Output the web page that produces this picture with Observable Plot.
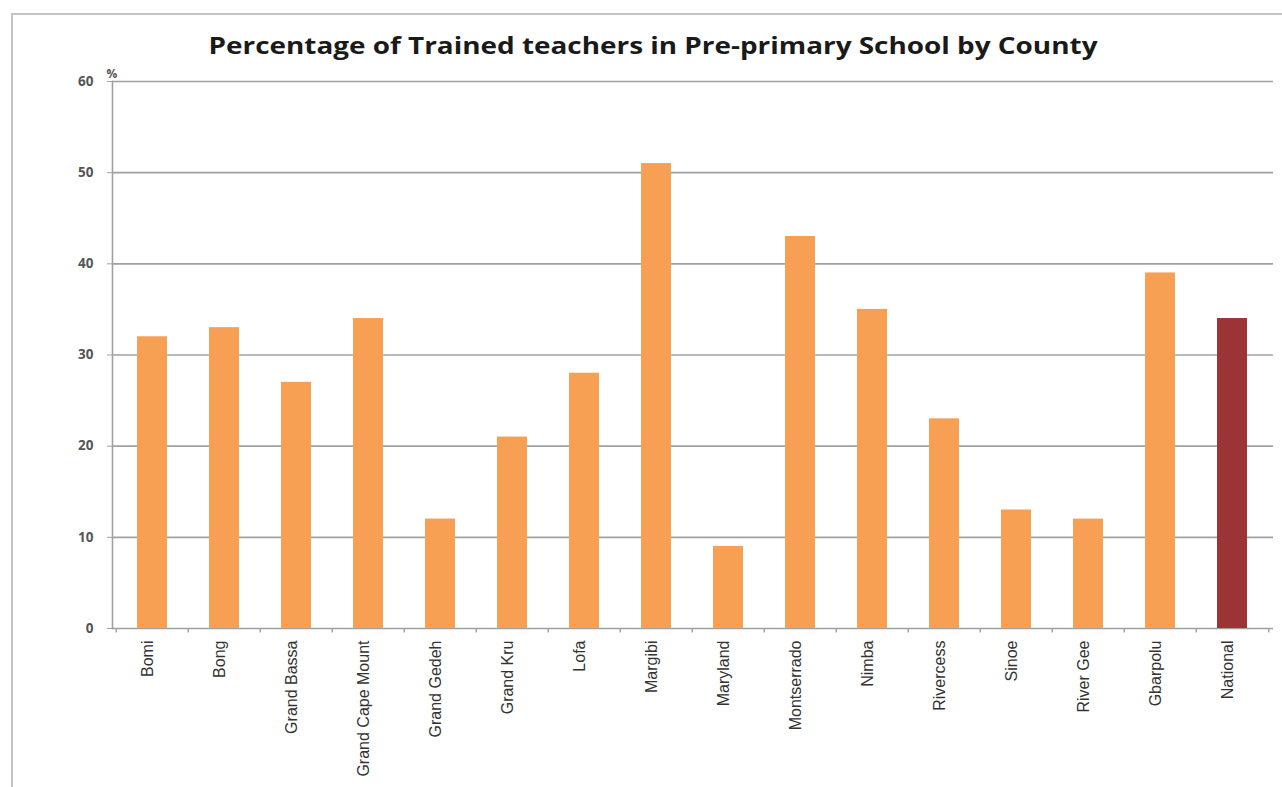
<!DOCTYPE html>
<html>
<head>
<meta charset="utf-8">
<script src="https://cdn.jsdelivr.net/npm/d3@7"></script>
<script src="https://cdn.jsdelivr.net/npm/@observablehq/plot@0.6"></script>
<style>
  html, body { margin: 0; padding: 0; background: #fff; overflow: hidden; }
  #wrap { position: relative; width: 1282px; height: 787px; overflow: hidden; }
  #border { position: absolute; left: 11px; top: 13px; width: 1320px; height: 820px; border: 2px solid #c4c4c4; box-sizing: border-box; }
  #chart { position: absolute; left: 0; top: 0; }
</style>
</head>
<body>
<div id="wrap">
  <div id="border"></div>
  <div id="chart"></div>
</div>
<script>
const title = "Percentage of Trained teachers in Pre-primary School by County";
const counties = ["Bomi", "Bong", "Grand Bassa", "Grand Cape Mount", "Grand Gedeh", "Grand Kru", "Lofa", "Margibi", "Maryland", "Montserrado", "Nimba", "Rivercess", "Sinoe", "River Gee", "Gbarpolu", "National"];
const percentages = [32, 33, 27, 34, 12, 21, 28, 51, 9, 43, 35, 23, 13, 12, 39, 34];
const kinds = ["County", "County", "County", "County", "County", "County", "County", "County", "County", "County", "County", "County", "County", "County", "County", "National"];
const yTicks = [0, 10, 20, 30, 40, 50, 60];

const data = counties.map((c, i) => ({county: c, value: percentages[i], kind: kinds[i]}));

const W = 1282, H = 787, mL = 112, mR = 9, mT = 81, mB = 159;
const step = (W - mL - mR) / counties.length;

const plot = Plot.plot({
  width: W,
  height: H,
  marginLeft: mL,
  marginRight: mR,
  marginTop: mT,
  marginBottom: mB,
  style: {background: "transparent", overflow: "visible"},
  x: {domain: counties, paddingInner: 0.58, paddingOuter: 0.29},
  y: {domain: [0, 60]},
  color: {domain: ["County", "National"], range: ["#f7a054", "#9b3434"]},
  marks: [
    Plot.ruleY(yTicks, {stroke: "#a0a0a0", strokeWidth: 1.6}),
    Plot.frame({anchor: "left", stroke: "#a0a0a0", strokeWidth: 1.6}),
    Plot.ruleX(counties, {x: d => d, y1: 0, y2: -0.5, dx: -step / 2, stroke: "#a0a0a0", strokeWidth: 1.4}),
    Plot.ruleX(counties.slice(-1), {x: d => d, y1: 0, y2: -0.5, dx: step / 2, stroke: "#a0a0a0", strokeWidth: 1.4}),
    Plot.barY(data, {x: "county", y: "value", fill: "kind"}),
    Plot.axisY({ticks: yTicks, tickSize: 5, tickPadding: 14, stroke: "#a0a0a0", label: null,
      fontSize: 13.5, fontWeight: 700, fill: "#555", fontFamily: "Open Sans"}),
    Plot.axisX({tickSize: 0, tickRotate: -90, tickPadding: 12, label: null, dx: -5,
      fontSize: 16, fill: "#333", fontFamily: "Liberation Sans"}),
    Plot.text(["%"], {frameAnchor: "top-left", dx: -6, dy: -12, text: d => d, fontSize: 12, fontWeight: 700, fill: "#555", fontFamily: "Open Sans"}),
    Plot.text([title], {frameAnchor: "top", dx: -40, dy: -28, lineAnchor: "bottom", text: d => d, fontSize: 24, fontWeight: 700, fill: "#1a1a1a", fontFamily: "Open Sans", className: "chart-title"})
  ]
});
document.getElementById("chart").appendChild(plot);
d3.select(plot).selectAll(".chart-title text").attr("textLength", 889).attr("lengthAdjust", "spacingAndGlyphs");
</script>
</body>
</html>
